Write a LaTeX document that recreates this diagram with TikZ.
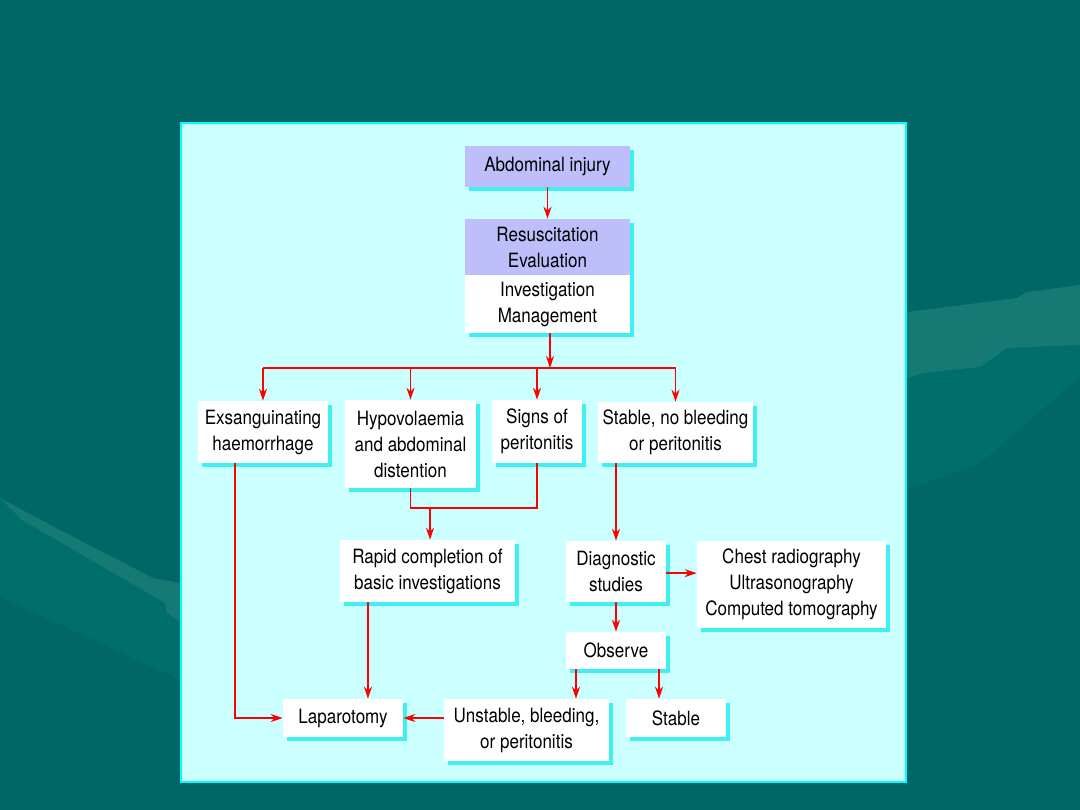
\documentclass[tikz,border=0pt]{standalone}
\usepackage{fontspec}
\setmainfont{TeX Gyre Heros}[FakeStretch=0.865]
\usetikzlibrary{arrows.meta,shadows}
\definecolor{slidebg}{RGB}{0,102,102}
\definecolor{swooshlight}{RGB}{22,121,115}
\definecolor{swooshmid}{RGB}{0,110,106}
\definecolor{panelfill}{RGB}{204,255,255}
\definecolor{panelline}{RGB}{0,255,255}
\definecolor{lav}{RGB}{190,190,250}
\definecolor{boxshadow}{RGB}{64,240,240}
\definecolor{flowred}{RGB}{255,0,0}

\begin{document}
\begin{tikzpicture}[
    x=0.025cm, y=-0.025cm,
    box/.style={fill=white, inner sep=0pt, align=center, text=black,
                font=\fontsize{14}{18.5}\selectfont,
                drop shadow={shadow xshift=0.1cm, shadow yshift=-0.1cm, fill=boxshadow, opacity=1}},
    head/.style={box, fill=lav},
    link/.style={flowred, line width=1.1pt},
    arrow/.style={link, -{Stealth[length=0.3cm,width=0.2cm]}}
]
\useasboundingbox (0,0) rectangle (1080,810);

% slide background
\fill[slidebg] (0,0) rectangle (1080,810);
\fill[swooshmid] (0,498) -- (22,520) -- (165,603) -- (167,613) -- (180,622) -- (180,680) -- (0,597) -- cycle;
\fill[swooshlight] (0,498) -- (60,530) -- (153,578) -- (180,583) -- (180,622) -- (167,613) -- (165,603) -- (22,520) -- cycle;
\fill[swooshmid] (907,378) -- (923,373) -- (980,367) -- (1007,348) -- (1080,345) -- (1080,377) -- (980,463) -- (907,490) -- cycle;
\fill[swooshlight] (907,312) -- (1017,298) -- (1027,292) -- (1080,285) -- (1080,345) -- (1007,348) -- (980,367) -- (923,373) -- (907,378) -- cycle;

% panel
\draw[panelline, fill=panelfill, line width=1.5pt] (181,123) rectangle (906,782);

% top of the chart
\node[head, minimum width=4.125cm, minimum height=1.025cm] (inj) at (547.5,166.5) {Abdominal injury};
\node[head, minimum width=4.125cm, minimum height=1.4cm] (resA) at (547.5,247) {Resuscitation\\Evaluation};
\node[box, minimum width=4.125cm, minimum height=1.45cm] (resB) at (547.5,304) {Investigation\\Management};

% four presentations
\node[box, minimum width=3.25cm, minimum height=1.55cm] (exs) at (263,432) {Exsanguinating\\haemorrhage};
\node[box, minimum width=3.275cm, minimum height=2.2cm] (hypo) at (410.5,444) {Hypovolaemia\\and abdominal\\distention};
\node[box, minimum width=2.25cm, minimum height=1.575cm] (signs) at (537,431.5) {Signs of\\peritonitis};
\node[box, minimum width=3.875cm, minimum height=1.525cm] (stab) at (675.5,432.5) {Stable, no bleeding\\or peritonitis};

% middle row
\node[box, minimum width=4.375cm, minimum height=1.55cm] (rapid) at (427.5,571) {Rapid completion of\\basic investigations};
\node[box, minimum width=2.5cm, minimum height=1.525cm] (diag) at (616,571.5) {Diagnostic\\studies};
\node[box, minimum width=4.725cm, minimum height=2.175cm] (img) at (791.5,584.5) {Chest radiography\\Ultrasonography\\Computed tomography};
\node[box, minimum width=2.5cm, minimum height=0.925cm] (obs) at (616,650.5) {Observe};

% outcomes
\node[box, minimum width=3cm, minimum height=0.95cm] (lap) at (343,718) {Laparotomy};
\node[box, minimum width=4.125cm, minimum height=1.55cm] (unst) at (526.5,730) {Unstable, bleeding,\\or peritonitis};
\node[box, minimum width=2.5cm, minimum height=0.95cm] (stable) at (676,718) {Stable};

% Arrows
\coordinate (bar) at (550,368);
\coordinate (merge) at (430,508);
\draw[arrow] (inj) -- (resA);
\draw[arrow] (resB.south -| bar) -- (bar);
\draw[link] (exs.north |- bar) -- (stab.north |- bar);
\foreach \n in {exs, hypo, signs, stab}
  \draw[arrow] (\n.north |- bar) -- (\n.north);
\draw[link] (hypo.south) |- (merge) -| (signs.south);
\draw[arrow] (merge) -- (merge |- rapid.north);
\draw[arrow] ([xshift=-0.7cm]exs.south) |- (lap.west);
\draw[arrow] ([xshift=-1.4875cm]rapid.south) -- ([xshift=-1.4875cm]rapid.south |- lap.north);
\draw[arrow] (diag.north |- stab.south) -- (diag.north);
\draw[arrow] ([yshift=-0.04cm]diag.east) -- ([yshift=-0.04cm]diag.east -| img.west);
\draw[arrow] (diag) -- (obs);
\draw[arrow] ([xshift=-1cm]obs.south) -- ([xshift=-1cm]obs.south |- unst.north);
\draw[arrow] ([xshift=1.075cm]obs.south) -- ([xshift=1.075cm]obs.south |- stable.north);
\draw[arrow] (unst.west |- lap) -- (lap.east);
\end{tikzpicture}
\end{document}
